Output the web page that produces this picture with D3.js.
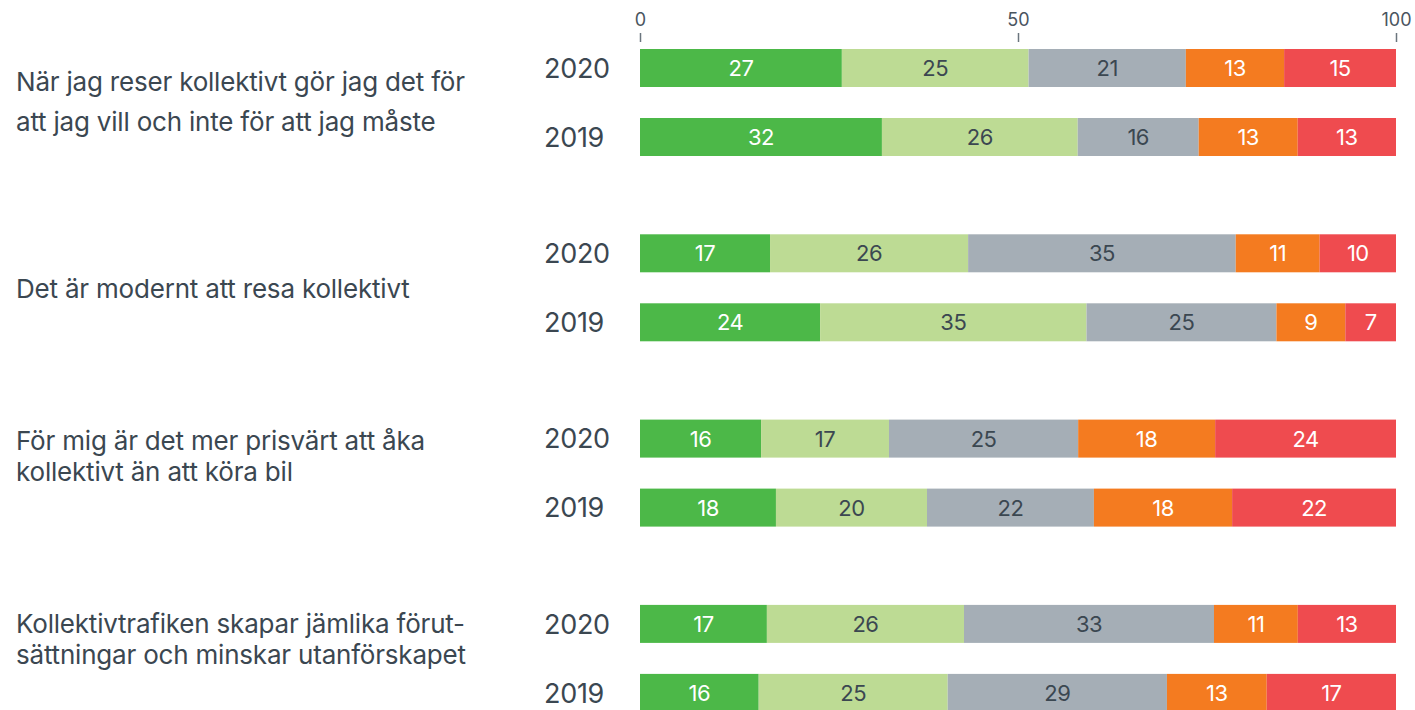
<!DOCTYPE html>
<html>
<head>
<meta charset="utf-8">
<script src="https://cdn.jsdelivr.net/npm/d3@7"></script>
<style>
  body { margin: 0; background: #fff; }
  svg text { font-family: Inter, "Open Sans", sans-serif; }
</style>
</head>
<body>
<div id="chart"></div>
<script>
// data
var statements = [
    ['När jag reser kollektivt gör jag det för', 'att jag vill och inte för att jag måste'],
    ['Det är modernt att resa kollektivt'],
    ['För mig är det mer prisvärt att åka', 'kollektivt än att köra bil'],
    ['Kollektivtrafiken skapar jämlika förut-', 'sättningar och minskar utanförskapet']
];
var years = ['2020', '2019'];
var axisTicks = [0, 50, 100];

// five answer steps, per statement, per year (2020, 2019)
var values2020 = [
    [26.7, 24.7, 20.8, 13.0, 14.8],
    [17.2, 26.2, 35.4, 11.1, 10.1],
    [16.0, 16.9, 25.0, 18.1, 23.9],
    [16.8, 26.1, 33.1, 11.1, 13.0]
];
var values2019 = [
    [32.0, 25.9, 16.0, 13.1, 13.0],
    [23.8, 35.2, 25.1, 9.1, 6.7],
    [18.0, 20.0, 22.1, 18.3, 21.7],
    [15.7, 25.0, 29.0, 13.2, 17.1]
];

var colors = ['#4cb848', '#bddb94', '#a5aeb6', '#f47b20', '#ef4b4f'];
var labelColors = ['#ffffff', '#3b4751', '#3b4751', '#ffffff', '#ffffff'];
var textColor = '#3b4751';

// layout
var width = 1415;
var height = 710;
var barLeft = 640;
var barRight = 1396;
var barHeight = 38;
// first baseline offset from group top, and line spacing of the statement text
var statementLayout = [[42, 40], [64, 0], [30, 31], [28, 31]];

var svg = d3.select('#chart')
  .append('svg')
    .attr('width', width)
    .attr('height', height);

var x = d3.scaleLinear().domain([0, 100]).range([barLeft, barRight]);

var yGroup = d3.scaleBand()
    .domain(d3.range(statements.length))
    .range([49, 49 + 4 * 185.3])
    .padding(0);

var yYear = d3.scalePoint()
    .domain(years)
    .range([0, 69]);

// axis on top
var axis = d3.axisTop(x)
    .tickValues(axisTicks)
    .tickSize(9)
    .tickPadding(7)
    .tickFormat(d3.format('d'));

var axisG = svg.append('g')
    .attr('transform', 'translate(0,42)')
    .call(axis);
axisG.select('.domain').remove();
axisG.selectAll('.tick line')
    .attr('stroke', '#6b757e')
    .attr('stroke-width', 1.5);
axisG.selectAll('.tick text')
    .attr('fill', '#4a555f')
    .attr('font-size', '18px');

// rows
var rows = [];
statements.forEach(function(s, gi) {
    rows.push({ group: gi, year: '2020', values: values2020[gi] });
    rows.push({ group: gi, year: '2019', values: values2019[gi] });
});

var row = svg.append('g')
    .selectAll('g.row')
    .data(rows)
  .enter()
    .append('g')
    .attr('class', 'row')
    .attr('transform', function(d) {
        return 'translate(0,' + (yGroup(d.group) + yYear(d.year)) + ')';
    });

row.append('text')
    .attr('x', 544)
    .attr('y', barHeight / 2)
    .attr('dy', '0.36em')
    .attr('fill', textColor)
    .attr('font-size', '27px')
    .attr('letter-spacing', '-0.3px')
    .text(function(d) { return d.year; });

var seg = row.selectAll('g.seg')
    .data(function(d) {
        var total = d3.sum(d.values);
        var acc = 0;
        return d.values.map(function(v, i) {
            var start = acc / total * 100;
            acc += v;
            return { i: i, v: v, x0: start, x1: acc / total * 100 };
        });
    })
  .enter()
    .append('g')
    .attr('class', 'seg');

seg.append('rect')
    .attr('x', function(d) { return x(d.x0); })
    .attr('width', function(d) { return x(d.x1) - x(d.x0); })
    .attr('y', 0)
    .attr('height', barHeight)
    .attr('fill', function(d) { return colors[d.i]; });

seg.append('text')
    .attr('x', function(d) { return (x(d.x0) + x(d.x1)) / 2; })
    .attr('y', barHeight / 2)
    .attr('dy', '0.36em')
    .attr('text-anchor', 'middle')
    .attr('font-size', '22px')
    .attr('letter-spacing', '-0.5px')
    .attr('fill', function(d) { return labelColors[d.i]; })
    .text(function(d) { return Math.round(d.v); });

// statement labels
var labels = svg.append('g')
    .selectAll('text.statement')
    .data(statements)
  .enter()
    .append('text')
    .attr('class', 'statement')
    .attr('fill', textColor)
    .attr('font-size', '26px')
    .attr('letter-spacing', '-0.2px');

labels.selectAll('tspan')
    .data(function(d, gi) {
        return d.map(function(line, li) { return { line: line, gi: gi, li: li }; });
    })
  .enter()
    .append('tspan')
    .attr('x', 16)
    .attr('y', function(d) {
        var l = statementLayout[d.gi];
        return yGroup(d.gi) + l[0] + d.li * l[1];
    })
    .text(function(d) { return d.line; });
</script>
</body>
</html>
